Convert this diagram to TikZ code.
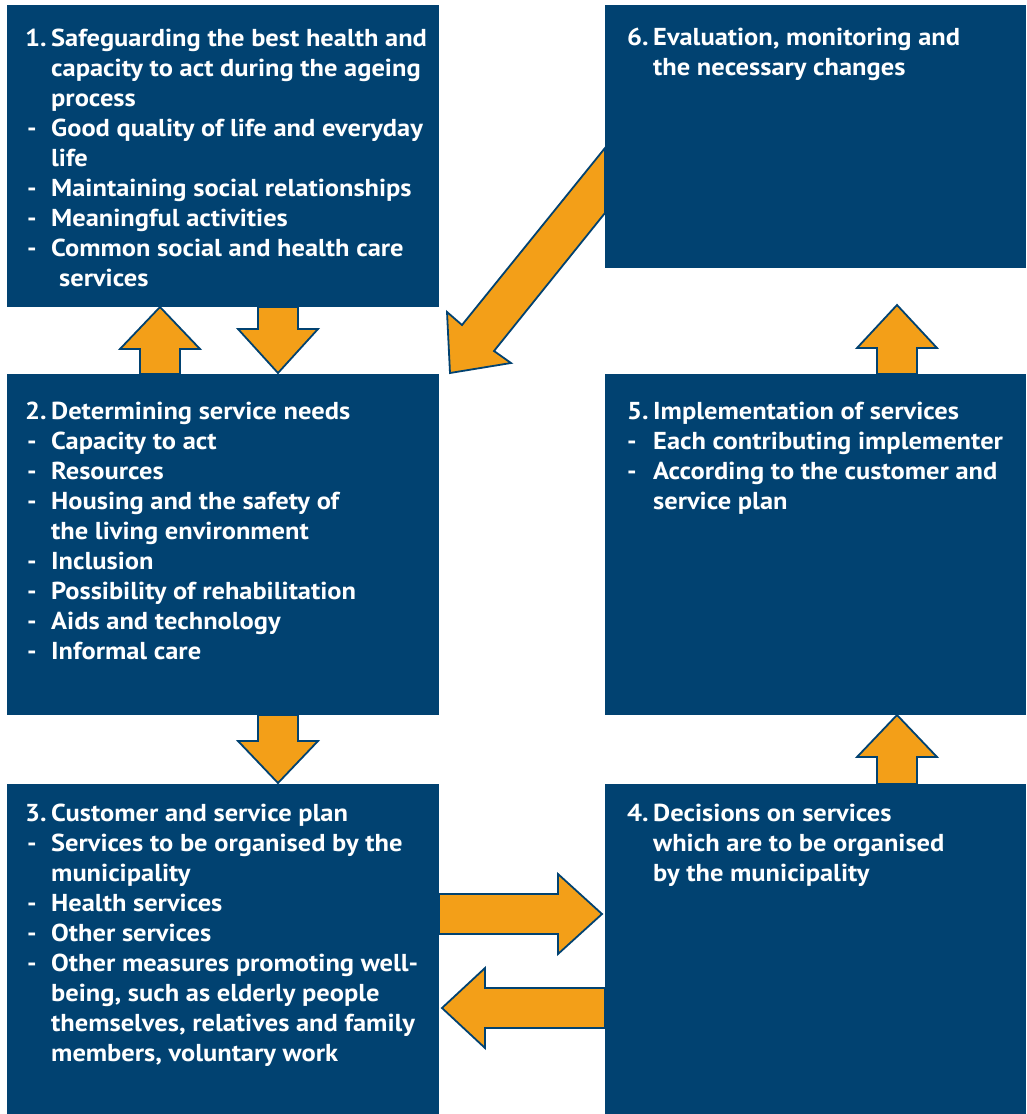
\documentclass[tikz,border=0pt]{standalone}
\usepackage{fontspec}
\setmainfont{PT Sans}[FakeStretch=1.08]
\definecolor{navy}{RGB}{1,66,113}
\definecolor{amber}{RGB}{243,159,24}
\newcommand\hd[2]{\makebox[24pt][l]{#1}#2}
\newcommand\nm[2]{\makebox[24pt][l]{\hspace*{-2pt}#1}#2}
\newcommand\hdr[2]{\makebox[26pt][l]{#1}#2}
\newcommand\cn[1]{\hspace*{24pt}#1}
\newcommand\cnr[1]{\hspace*{26pt}#1}
\begin{document}
\begin{tikzpicture}[x=1pt,y=-1pt,
  box/.style={fill=navy,draw=none,inner sep=0pt,anchor=north west},
  txt/.style={text=white,inner sep=0pt,anchor=base west,
    font=\fontsize{24.5}{30}\selectfont\bfseries},
  blockarrow/.style={fill=amber,draw=navy,line width=1.8pt,line join=miter}]
\useasboundingbox (0,0) rectangle (1027,1114);

% the six stages
\node[box,minimum width=432pt,minimum height=302pt] (b1) at (7,5) {};
\node[box,minimum width=432pt,minimum height=341pt] (b2) at (7,374) {};
\node[box,minimum width=432pt,minimum height=330pt] (b3) at (7,784) {};
\node[box,minimum width=421pt,minimum height=263pt] (b6) at (605,5) {};
\node[box,minimum width=421pt,minimum height=341pt] (b5) at (605,374) {};
\node[box,minimum width=421pt,minimum height=330pt] (b4) at (605,784) {};

% block arrows between the stages
\draw[blockarrow] (140,374) -- (140,349) -- (120,349) -- (160,307) -- (200,349) -- (180,349) -- (180,374) -- cycle;
\draw[blockarrow] (258,307) -- (258,329) -- (238,329) -- (278,373) -- (318,329) -- (298,329) -- (298,307) -- cycle;
\draw[blockarrow] (258,715) -- (258,741) -- (238,741) -- (278,783) -- (318,741) -- (298,741) -- (298,715) -- cycle;
\draw[blockarrow] (877,784) -- (877,757) -- (857,757) -- (897,715) -- (937,757) -- (917,757) -- (917,784) -- cycle;
\draw[blockarrow] (877,374) -- (877,348) -- (857,348) -- (897,305) -- (937,348) -- (917,348) -- (917,374) -- cycle;
\draw[blockarrow] (439,894) -- (558,894) -- (558,874) -- (602,914) -- (558,954) -- (558,934) -- (439,934) -- cycle;
\draw[blockarrow] (605,988) -- (485,988) -- (485,968) -- (442,1008) -- (485,1048) -- (485,1028) -- (605,1028) -- cycle;
\draw[blockarrow] (605,148) -- (462,325) -- (447,312) -- (450,373) -- (511,363) -- (494,351) -- (605,213) -- cycle;

% stage texts
\node[txt] (t1) at (27,46) {\parbox[t]{420pt}{\raggedright
\nm{1.}{Safeguarding the best health and}\\
\cn{capacity to act during the ageing}\\
\cn{process}\\
\hd{-}{Good quality of life and everyday}\\
\cn{life}\\
\hd{-}{Maintaining social relationships}\\
\hd{-}{Meaningful activities}\\
\hd{-}{Common social and health care}\\
\cn{\hspace*{8pt}services}}};

\node[txt] (t2) at (27,419) {\parbox[t]{420pt}{\raggedright
\nm{2.}{Determining service needs}\\
\hd{-}{Capacity to act}\\
\hd{-}{Resources}\\
\hd{-}{Housing and the safety of}\\
\cn{the living environment}\\
\hd{-}{Inclusion}\\
\hd{-}{Possibility of rehabilitation}\\
\hd{-}{Aids and technology}\\
\hd{-}{Informal care}}};

\node[txt] (t3) at (27,821) {\parbox[t]{420pt}{\raggedright
\nm{3.}{Customer and service plan}\\
\hd{-}{Services to be organised by the}\\
\cn{municipality}\\
\hd{-}{Health services}\\
\hd{-}{Other services}\\
\hd{-}{Other measures promoting well-}\\
\cn{being, such as elderly people}\\
\cn{themselves, relatives and family}\\
\cn{members, voluntary work}}};

\node[txt] (t6) at (627,45) {\parbox[t]{400pt}{\raggedright
\hdr{6.}{Evaluation, monitoring and}\\
\cnr{the necessary changes}}};

\node[txt] (t5) at (627,419) {\parbox[t]{400pt}{\raggedright
\hdr{5.}{Implementation of services}\\
\hdr{-}{Each contributing implementer}\\
\hdr{-}{According to the customer and}\\
\cnr{service plan}}};

\node[txt] (t4) at (627,821) {\parbox[t]{400pt}{\raggedright
\hdr{4.}{Decisions on services}\\
\cnr{which are to be organised}\\
\cnr{by the municipality}}};
\end{tikzpicture}
\end{document}
